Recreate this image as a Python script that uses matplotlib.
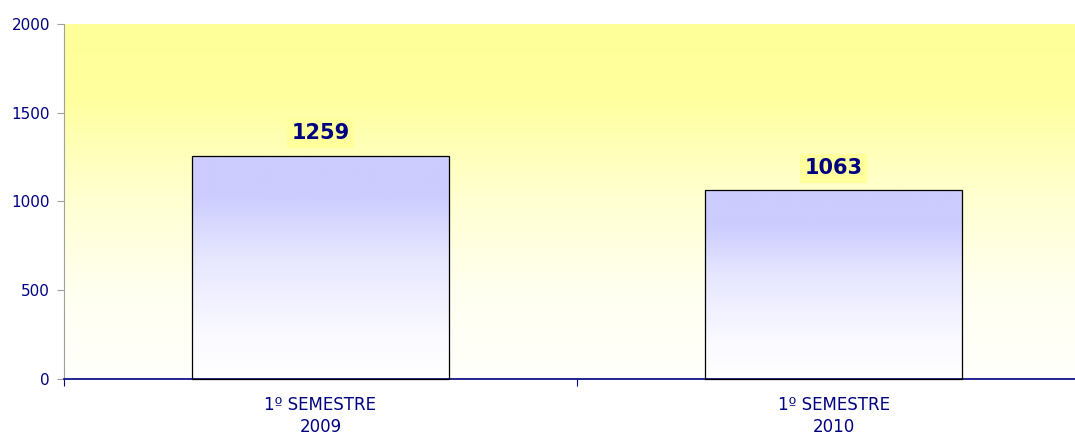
import numpy as np
import matplotlib
matplotlib.use('Agg')
import matplotlib.pyplot as plt
from matplotlib.colors import LinearSegmentedColormap

categories = ['1º SEMESTRE\n2009', '1º SEMESTRE\n2010']
values = [1259, 1063]
yticks = [0, 500, 1000, 1500, 2000]

navy = '#000080'

fig = plt.figure(figsize=(10.75, 4.37), dpi=100)
# plot area runs a little past the right edge of the picture (as in the original)
ax = fig.add_axes([64/1075., 58/437., 1026/1075., 355/437.])

# background gradient: yellow top -> white bottom
bg_cmap = LinearSegmentedColormap.from_list(
    'bg', [(0, '#fffffc'), (0.25, '#fffff0'), (0.5, '#ffffd2'),
           (0.8, '#ffff9e'), (1, '#ffff99')])
grad = np.linspace(0, 1, 256).reshape(-1, 1)
ax.imshow(grad, cmap=bg_cmap, aspect='auto', origin='lower',
          extent=(-0.5, 1.5, 0, 2000), zorder=0)

# bars with lavender gradient
bar_cmap = LinearSegmentedColormap.from_list(
    'bar', [(0, '#ffffff'), (0.2, '#fafaff'), (0.55, '#e6e6ff'),
            (0.82, '#ccccff'), (1, '#ccccff')])
xs = np.arange(len(values))
bars = ax.bar(xs, values, width=0.5, facecolor='none', edgecolor='black',
              linewidth=0.9, zorder=3, clip_on=False)
for b in bars:
    x0, w, h = b.get_x(), b.get_width(), b.get_height()
    im = ax.imshow(grad, cmap=bar_cmap, aspect='auto', origin='lower',
                   extent=(x0, x0 + w, 0, h), zorder=2)
    im.set_clip_path(b)

for x, v in zip(xs, values):
    ax.text(x, v + 125, str(v), ha='center', va='center', fontsize=15,
            fontweight='bold', color=navy,
            bbox=dict(boxstyle='square,pad=0.22', facecolor='#ffff9c', edgecolor='none'),
            zorder=4)

ax.set_xlim(-0.5, 1.5)
ax.set_ylim(0, 2000)
ax.set_yticks(yticks)
ax.set_yticklabels([str(t) for t in yticks])
ax.set_xticks([-0.5, 0.5, 1.5])
ax.set_xticklabels([])
ax.set_xticks(xs, minor=True)
ax.set_xticklabels(categories, minor=True, linespacing=1.3)
ax.tick_params(axis='x', which='minor', length=0, pad=12, labelsize=12, labelcolor=navy)
ax.tick_params(axis='x', which='major', length=5, color=navy, direction='out')
ax.tick_params(axis='y', length=5, color='#a0a0a0', labelsize=11, labelcolor=navy, pad=5)

for s in ['top', 'right']:
    ax.spines[s].set_visible(False)
ax.spines['left'].set_color('#a0a0a0')
ax.spines['bottom'].set_color(navy)
ax.spines['bottom'].set_linewidth(1.2)

fig.savefig('out.png', dpi=100)
